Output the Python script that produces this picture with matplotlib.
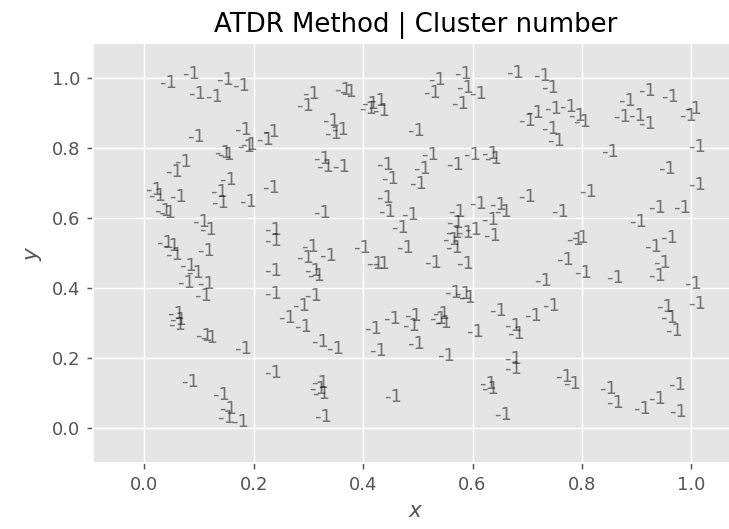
import numpy as np
import matplotlib
matplotlib.use("Agg")
import matplotlib.pyplot as plt

# point coordinates; every point is labelled with its cluster number
xs = [0.027, 0.070, 0.081, 0.111, 0.131, 0.161, 0.277, 0.079, 0.164, 0.169,
      0.175, 0.204, 0.216, 0.128, 0.134, 0.039, 0.055, 0.137, 0.120, 0.123,
      0.045, 0.002, 0.008, 0.174, 0.216, 0.018, 0.026,
      0.289, 0.347, 0.356, 0.396, 0.411, 0.393, 0.416, 0.518, 0.510, 0.567,
      0.570, 0.594, 0.561, 0.661, 0.326, 0.329, 0.341, 0.481, 0.309, 0.314,
      0.344, 0.423, 0.433, 0.506, 0.491, 0.485, 0.551, 0.582, 0.615, 0.622,
      0.423, 0.427, 0.308, 0.469, 0.555, 0.594, 0.631, 0.640,
      0.710, 0.725, 0.683, 0.698, 0.731, 0.759, 0.774, 0.783, 0.725, 0.737,
      0.866, 0.902, 0.945, 0.856, 0.884, 0.902, 0.987, 0.978, 0.835, 0.994,
      0.939, 0.994, 0.795, 0.683, 0.744, 0.920, 0.966,
      0.088, 0.100, 0.022, 0.032, 0.039, 0.097, 0.064, 0.076, 0.061, 0.097,
      0.091, 0.042, 0.045, 0.044, 0.094, 0.103, 0.164, 0.219, 0.219, 0.219,
      0.219, 0.244, 0.271, 0.274, 0.219,
      0.616, 0.451, 0.551, 0.549, 0.570, 0.585, 0.545, 0.549, 0.619, 0.381,
      0.460, 0.286, 0.277, 0.320, 0.292, 0.298, 0.405, 0.416, 0.512, 0.570,
      0.548, 0.567, 0.573, 0.292, 0.631, 0.475, 0.472, 0.436, 0.527, 0.521,
      0.530, 0.402, 0.305, 0.332, 0.411, 0.481, 0.536, 0.588, 0.658, 0.664,
      0.658, 0.658,
      0.887, 0.771, 0.780, 0.753, 0.786, 0.713, 0.844, 0.914, 0.942, 0.930,
      0.920, 0.987, 0.994, 0.935, 0.942, 0.951, 0.728, 0.695,
      0.067, 0.125, 0.137, 0.134, 0.158,
      0.305, 0.302, 0.306, 0.439, 0.311, 0.612, 0.615, 0.640,
      0.750, 0.765, 0.832, 0.844, 0.893, 0.920, 0.957, 0.960]
ys = [0.970, 0.996, 0.941, 0.930, 0.979, 0.963, 0.906, 0.816, 0.837, 0.788,
      0.793, 0.808, 0.831, 0.771, 0.765, 0.717, 0.746, 0.694, 0.660, 0.629,
      0.646, 0.667, 0.648, 0.632, 0.670, 0.607, 0.599,
      0.940, 0.951, 0.947, 0.911, 0.920, 0.897, 0.892, 0.979, 0.942, 0.996,
      0.958, 0.940, 0.911, 1.001, 0.864, 0.826, 0.837, 0.835, 0.755, 0.731,
      0.731, 0.736, 0.698, 0.765, 0.727, 0.684, 0.736, 0.765, 0.769, 0.755,
      0.642, 0.604, 0.599, 0.595, 0.604, 0.627, 0.623, 0.604,
      0.991, 0.958, 0.864, 0.887, 0.897, 0.902, 0.878, 0.859, 0.840, 0.807,
      0.920, 0.949, 0.930, 0.873, 0.878, 0.854, 0.897, 0.878, 0.774, 0.788,
      0.727, 0.680, 0.661, 0.646, 0.604, 0.613, 0.613,
      0.575, 0.552, 0.514, 0.506, 0.481, 0.490, 0.448, 0.429, 0.401, 0.396,
      0.363, 0.311, 0.295, 0.279, 0.249, 0.244, 0.211, 0.552, 0.519, 0.434,
      0.368, 0.301, 0.334, 0.273, 0.142,
      0.580, 0.557, 0.571, 0.542, 0.542, 0.552, 0.523, 0.500, 0.533, 0.500,
      0.500, 0.504, 0.472, 0.476, 0.433, 0.419, 0.453, 0.453, 0.457, 0.453,
      0.372, 0.368, 0.358, 0.363, 0.321, 0.306, 0.277, 0.297, 0.311, 0.297,
      0.287, 0.268, 0.230, 0.211, 0.207, 0.226, 0.192, 0.259, 0.277, 0.254,
      0.183, 0.155,
      0.575, 0.523, 0.528, 0.467, 0.429, 0.405, 0.415, 0.504, 0.528, 0.457,
      0.419, 0.396, 0.339, 0.330, 0.301, 0.263, 0.334, 0.306,
      0.117, 0.079, 0.041, 0.013, 0.003,
      0.115, 0.098, 0.084, 0.074, 0.018, 0.112, 0.098, 0.022,
      0.131, 0.112, 0.098, 0.056, 0.041, 0.069, 0.108, 0.032]
cluster = [-1] * len(xs)

plt.style.use('ggplot')
fig = plt.figure(figsize=(729 / 130, 529 / 130), dpi=130)
ax = fig.add_axes([0.1272, 0.1248, 0.8866, 0.794])

for x, y, c in zip(xs, ys, cluster):
    ax.text(x, y, str(c), color='black', alpha=0.5, fontsize=10)

ax.set_xlim(-0.094, 1.087)
ax.set_ylim(-0.1, 1.1)
ax.set_xticks(np.arange(0, 1.01, 0.2))
ax.set_yticks(np.arange(0, 1.01, 0.2))
ax.set_xlabel('$x$')
ax.set_ylabel('$y$')
ax.set_title('ATDR Method | Cluster number')

fig.savefig('out.png', dpi=130)
